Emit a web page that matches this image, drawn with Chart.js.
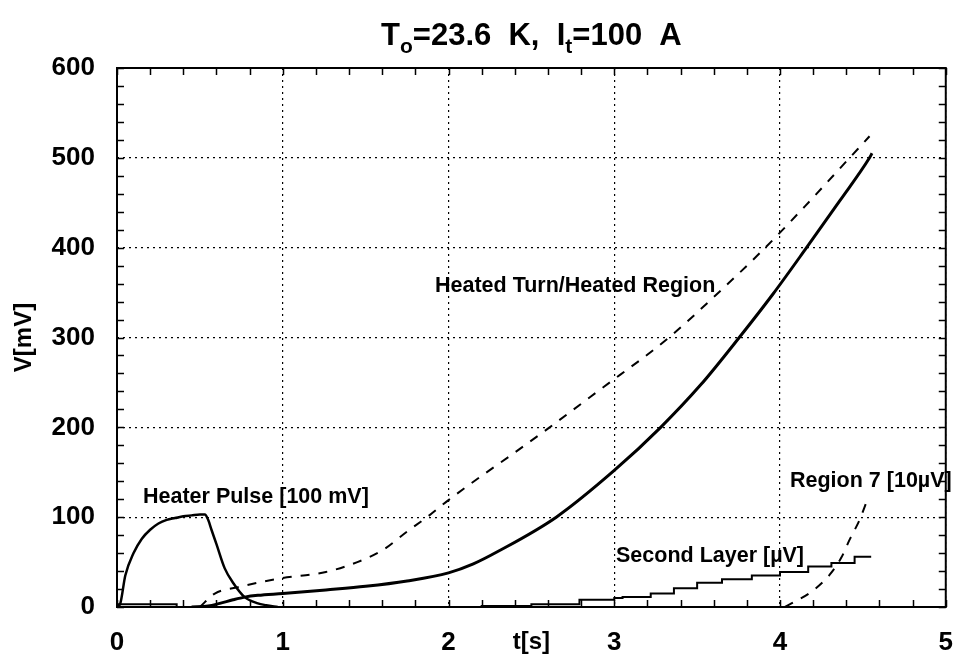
<!DOCTYPE html>
<html>
<head>
<meta charset="utf-8">
<script src="https://cdn.jsdelivr.net/npm/chart.js@4.4.1/dist/chart.umd.min.js"></script>
<style>
  html, body { margin: 0; padding: 0; background: #fff; }
  #wrap { width: 973px; height: 663px; }
</style>
</head>
<body>
<div id="wrap"><canvas id="chart"></canvas></div>
<script>
// data (t in s, V in mV)
const pulseT = [0, 0.02, 0.05, 0.1, 0.15, 0.2, 0.25, 0.3, 0.35, 0.4, 0.45, 0.5, 0.53, 0.55, 0.57, 0.6, 0.65, 0.7, 0.77, 0.85, 0.9, 0.97];
const pulseV = [0, 4, 35, 60, 76, 86, 93, 97, 99, 101, 102, 103, 103, 97, 86, 70, 43, 27, 11, 4, 2, 0];

const turnT = [0.45, 0.55, 0.62, 0.7, 0.77, 0.85, 1.0, 1.26, 1.5, 1.75, 2.0, 2.15, 2.3, 2.65, 3.0, 3.28, 3.52, 3.754, 3.96, 4.16, 4.36, 4.54, 4.555];
const turnV = [0, 1, 4, 8, 11, 13, 15, 19, 23, 29, 38, 48, 62, 100, 152, 200, 247, 300, 349, 400, 452, 500, 505];

const regionT = [0.5, 0.59, 0.73, 0.99, 1.26, 1.45, 1.6, 1.75, 1.87, 2.0, 2.2, 2.4, 2.61, 2.9, 3.33, 3.6, 3.9, 4.15, 4.42, 4.54];
const regionV = [0, 15, 22, 32, 39, 50, 63, 84, 100, 119, 146, 172, 200, 240, 300, 345, 398, 446, 500, 524];

const layerT = [0, 0.35, 0.36, 2.2, 2.5, 2.79, 3.0, 3.05, 3.22, 3.36, 3.5, 3.65, 3.83, 4.0, 4.17, 4.31, 4.45, 4.55];
const layerV = [3, 3, 0, 1, 3, 8, 10, 11, 15, 21, 27, 31, 35, 39, 45, 49, 56, 56];

const r7T = [4.03, 4.09, 4.19, 4.3, 4.37, 4.42, 4.48, 4.52];
const r7V = [0, 6, 17, 36, 55, 75, 97, 116];

const xTicks = [0, 1, 2, 3, 4, 5];
const yTicks = [0, 100, 200, 300, 400, 500, 600];

const FONT = "'Liberation Sans', Arial, Helvetica, sans-serif";

function pts(ts, vs) {
  return ts.map((t, i) => ({ x: t, y: vs[i] }));
}

const labels = [
  { text: "Heated Turn/Heated Region", x: 435, y: 292 },
  { text: "Heater Pulse [100 mV]", x: 143, y: 503 },
  { text: "Second Layer [\u00b5V]", x: 616, y: 562 },
  { text: "Region 7 [10\u00b5V]", x: 790, y: 487 }
];

const framePlugin = {
  id: "frame",
  afterDraw(chart) {
    const ctx = chart.ctx;
    const a = chart.chartArea;
    const xs = chart.scales.x;
    const ys = chart.scales.y;
    ctx.save();
    ctx.strokeStyle = "#000";
    ctx.lineWidth = 1.5;
    // inward ticks on all four sides, minor every 0.2 s / 20 mV
    const tl = 7;
    ctx.beginPath();
    for (let i = 0; i <= 25; i++) {
      const px = Math.round(xs.getPixelForValue(i * 0.2)) + 0.5;
      ctx.moveTo(px, a.bottom); ctx.lineTo(px, a.bottom - tl);
      ctx.moveTo(px, a.top); ctx.lineTo(px, a.top + tl);
    }
    for (let i = 0; i <= 30; i++) {
      const py = Math.round(ys.getPixelForValue(i * 20)) + 0.5;
      ctx.moveTo(a.left, py); ctx.lineTo(a.left + tl, py);
      ctx.moveTo(a.right, py); ctx.lineTo(a.right - tl, py);
    }
    ctx.stroke();
    ctx.lineWidth = 2;
    ctx.strokeRect(a.left, a.top, a.right - a.left, a.bottom - a.top);

    // curve labels
    ctx.fillStyle = "#000";
    ctx.font = "bold 21.5px " + FONT;
    ctx.textAlign = "left";
    ctx.textBaseline = "alphabetic";
    labels.forEach(l => ctx.fillText(l.text, l.x, l.y));

    // title with subscripts
    const parts = [
      ["T", 0], ["o", 1], ["=23.6  K,  I", 0], ["t", 1], ["=100  A", 0]
    ];
    const big = "bold 31px " + FONT;
    const small = "bold 21px " + FONT;
    let w = 0;
    parts.forEach(p => { ctx.font = p[1] ? small : big; w += ctx.measureText(p[0]).width; });
    let x = (a.left + a.right) / 2 - w / 2;
    parts.forEach(p => {
      ctx.font = p[1] ? small : big;
      ctx.fillText(p[0], x, p[1] ? 53 : 45);
      x += ctx.measureText(p[0]).width;
    });
    ctx.restore();
  }
};

const lineBase = { showLine: true, pointRadius: 0, borderColor: "#000", fill: false };
const smooth = { cubicInterpolationMode: "monotone" };

new Chart(document.getElementById("chart"), {
  type: "scatter",
  data: {
    datasets: [
      Object.assign({ label: "Heater Pulse", data: pts(pulseT, pulseV), borderWidth: 2.5 }, lineBase, smooth),
      Object.assign({ label: "Heated Turn", data: pts(turnT, turnV), borderWidth: 3 }, lineBase, smooth),
      Object.assign({ label: "Heated Region", data: pts(regionT, regionV), borderWidth: 2, borderDash: [9, 9] }, lineBase, smooth),
      Object.assign({ label: "Second Layer", data: pts(layerT, layerV), borderWidth: 2, stepped: true }, lineBase),
      Object.assign({ label: "Region 7", data: pts(r7T, r7V), borderWidth: 2, borderDash: [9, 9] }, lineBase, smooth)
    ]
  },
  options: {
    responsive: true,
    maintainAspectRatio: false,
    animation: false,
    layout: { padding: { top: 68, right: 13, left: 0, bottom: 0 } },
    plugins: { legend: { display: false }, tooltip: { enabled: false } },
    scales: {
      x: {
        type: "linear",
        min: 0, max: 5,
        afterBuildTicks: s => { s.ticks = xTicks.map(v => ({ value: v })); },
        afterFit: s => { s.height = 56; },
        ticks: { color: "#000", padding: 20, font: { family: FONT, size: 26, weight: "bold" } },
        grid: { color: "#000", lineWidth: 1.2, drawTicks: false },
        border: { display: false, dash: [2, 4] },
        title: { display: true, text: "t[s]", color: "#000", padding: { top: 0, bottom: 6 }, font: { family: FONT, size: 24, weight: "bold" } }
      },
      y: {
        type: "linear",
        min: 0, max: 600,
        afterBuildTicks: s => { s.ticks = yTicks.map(v => ({ value: v })); },
        afterFit: s => { s.width = 117; },
        ticks: { color: "#000", padding: 22, font: { family: FONT, size: 26, weight: "bold" } },
        grid: { color: "#000", lineWidth: 1.2, drawTicks: false },
        border: { display: false, dash: [2, 4] },
        title: { display: true, text: "V[mV]", color: "#000", padding: { top: 10, bottom: 0 }, font: { family: FONT, size: 24, weight: "bold" } }
      }
    }
  },
  plugins: [framePlugin]
});
</script>
</body>
</html>
